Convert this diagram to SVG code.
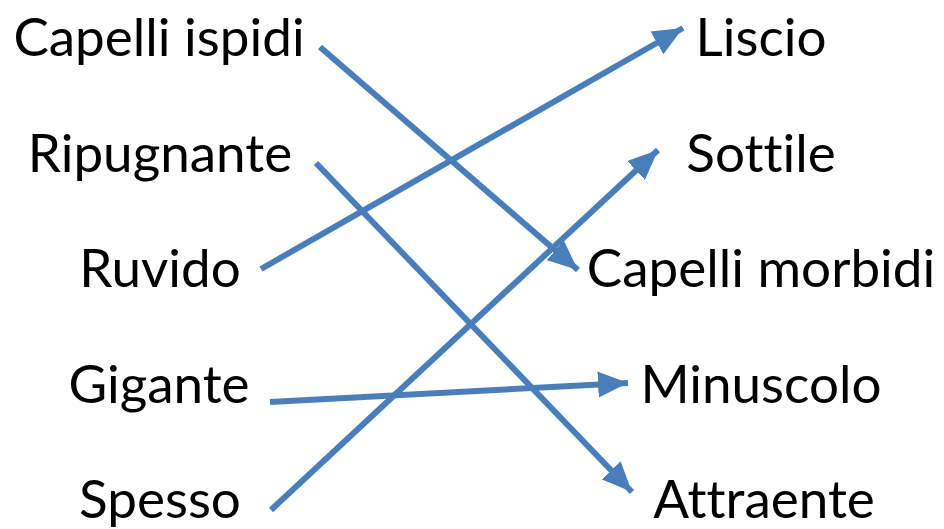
<svg xmlns="http://www.w3.org/2000/svg" width="944" height="529" viewBox="0 0 944 529">
<style>
text{font-family:Lato,"Open Sans","Liberation Sans",sans-serif;font-size:53px;fill:#000;text-anchor:middle;font-variant-ligatures:none}
.c line{stroke:#4A7EBB;stroke-width:6;marker-end:url(#ah)}
</style>
<defs>
<marker id="ah" markerUnits="userSpaceOnUse" markerWidth="32" markerHeight="28" refX="30" refY="13" orient="auto" viewBox="0 0 32 26">
<path d="M0,0 L30,13 L0,26 z" fill="#4A7EBB"/>
</marker>
</defs>
<rect width="944" height="529" fill="#fff"/>
<g id="left">
<g id="n-capelli-ispidi"><text x="159" y="56">Capelli ispidi</text></g>
<g id="n-ripugnante"><text x="160" y="172">Ripugnante</text></g>
<g id="n-ruvido"><text x="160" y="287">Ruvido</text></g>
<g id="n-gigante"><text x="159" y="403">Gigante</text></g>
<g id="n-spesso"><text x="160" y="518">Spesso</text></g>
</g>
<g id="right">
<g id="n-liscio"><text x="761" y="56">Liscio</text></g>
<g id="n-sottile"><text x="761" y="172">Sottile</text></g>
<g id="n-capelli-morbidi"><text x="761" y="287">Capelli morbidi</text></g>
<g id="n-minuscolo"><text x="761" y="403">Minuscolo</text></g>
<g id="n-attraente"><text x="764" y="518">Attraente</text></g>
</g>
<g class="c" id="connectors">
<line x1="320" y1="47" x2="578" y2="270"/>
<line x1="316" y1="163" x2="632" y2="492"/>
<line x1="261" y1="269" x2="683" y2="28"/>
<line x1="270" y1="402" x2="628" y2="383"/>
<line x1="271" y1="510" x2="658" y2="150"/>
</g>
</svg>
